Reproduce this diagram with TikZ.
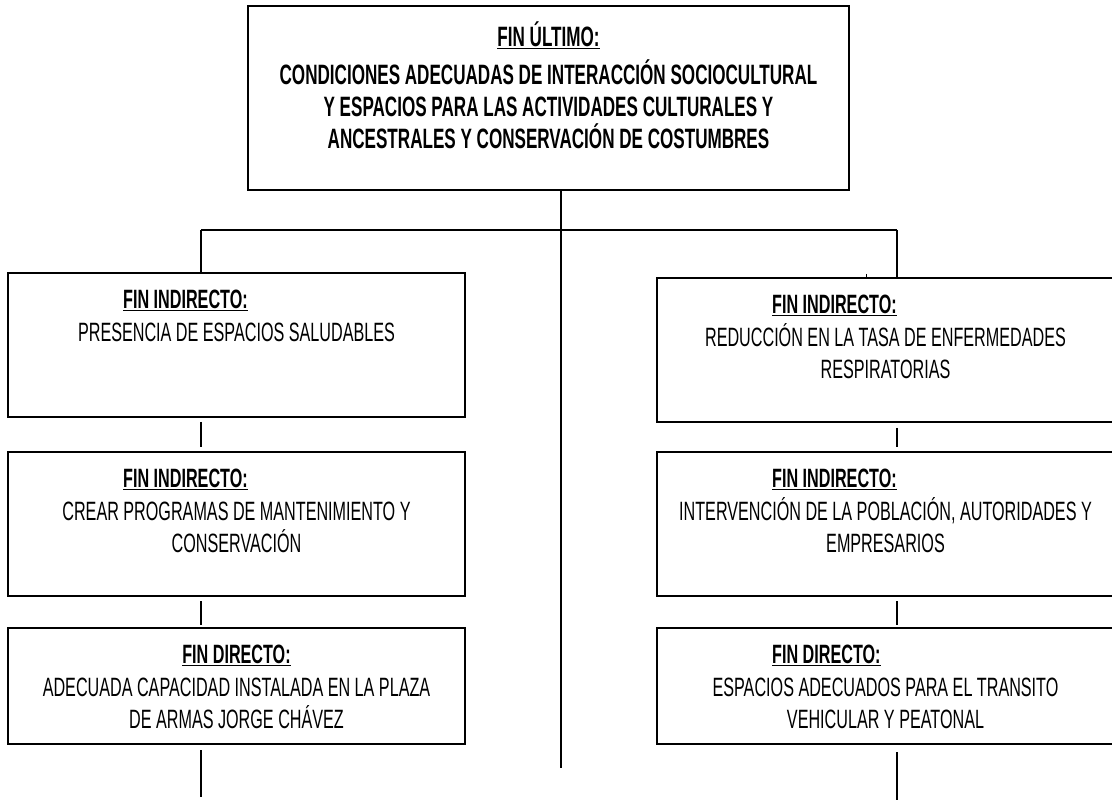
\documentclass[tikz,border=0pt]{standalone}
\usepackage{fontspec}
\setmainfont{Liberation Sans}[FakeStretch=0.61]
\usetikzlibrary{positioning}

\tikzset{
  caja/.style={draw, line width=1.6pt, anchor=north west, inner sep=0pt, outer sep=0pt},
  titulo/.style={inner sep=0pt, font=\bfseries\fontsize{26.5}{32}\selectfont},
  cuerpo/.style={anchor=north, align=center, inner sep=0pt, font=\fontsize{26.5}{32}\selectfont},
  linea/.style={line width=1.6pt}
}

\begin{document}
\begin{tikzpicture}[x=1pt,y=-1pt]
  \useasboundingbox (0,0) rectangle (1112,802);
  \clip (0,0) rectangle (1112,802);

  % fin ultimo
  \node[caja, minimum width=601pt, minimum height=184pt] (ultimo) at (248,6) {};
  \node[titulo, anchor=north, font=\bfseries\fontsize{28}{32}\selectfont] (tultimo) at (548.5,27) {\underline{FIN \smash{Ú}LTIMO:}};
  \node[cuerpo, font=\bfseries\fontsize{28}{32}\selectfont] (cultimo) at (548.5,65)
    {CONDICIONES ADECUADAS DE INTERACCI\smash{Ó}N SOCIOCULTURAL\\
     Y ESPACIOS PARA LAS ACTIVIDADES CULTURALES Y\\
     ANCESTRALES Y CONSERVACIÓN DE COSTUMBRES};

  % rama izquierda
  \node[caja, minimum width=457pt, minimum height=144pt] (izq1) at (8,273) {};
  \node[titulo, anchor=north west] (tizq1) at (123,290) {\underline{FIN INDIRECTO:}};
  \node[cuerpo] (cizq1) at (236.5,323) {PRESENCIA DE ESPACIOS SALUDABLES};

  \node[caja, minimum width=457pt, minimum height=144pt] (izq2) at (8,452) {};
  \node[titulo, anchor=north west] (tizq2) at (123,469) {\underline{FIN INDIRECTO:}};
  \node[cuerpo] (cizq2) at (236.5,502) {CREAR PROGRAMAS DE MANTENIMIENTO Y\\ CONSERVACIÓN};

  \node[caja, minimum width=457pt, minimum height=116pt] (izq3) at (8,628) {};
  \node[titulo, anchor=north] (tizq3) at (236.5,645) {\underline{FIN DIRECTO:}};
  \node[cuerpo] (cizq3) at (236.5,678) {ADECUADA CAPACIDAD INSTALADA EN LA PLAZA\\ DE ARMAS JORGE CHÁVEZ};

  % rama derecha
  \node[caja, minimum width=457pt, minimum height=144pt] (der1) at (657,278) {};
  \node[titulo, anchor=north west] (tder1) at (772,295) {\underline{FIN INDIRECTO:}};
  \node[cuerpo] (cder1) at (885.5,328) {REDUCCI\smash{Ó}N EN LA TASA DE ENFERMEDADES\\ RESPIRATORIAS};

  \node[caja, minimum width=457pt, minimum height=144pt] (der2) at (657,452) {};
  \node[titulo, anchor=north west] (tder2) at (772,469) {\underline{FIN INDIRECTO:}};
  \node[cuerpo] (cder2) at (885.5,502) {INTERVENCI\smash{Ó}N DE LA POBLACI\smash{Ó}N, AUTORIDADES Y\\ EMPRESARIOS};

  \node[caja, minimum width=457pt, minimum height=116pt] (der3) at (657,628) {};
  \node[titulo, anchor=north west] (tder3) at (772,645) {\underline{FIN DIRECTO:}};
  \node[cuerpo] (cder3) at (885.5,678) {ESPACIOS ADECUADOS PARA EL TRANSITO\\ VEHICULAR Y PEATONAL};

  % conectores
  \coordinate (centro) at (561,768);
  \coordinate (ramaL) at (201,230);
  \coordinate (ramaR) at (897,230);
  \coordinate (finL) at (201,797);
  \coordinate (finR) at (897,800);
  \coordinate (marca) at (866,274);

  \draw[linea] (ultimo.south -| centro) -- (centro);
  \draw[linea] (ramaL) -- (ramaR);
  \draw[linea] (ramaL) -- (ramaL |- izq1.north);
  \draw[linea] (ramaR) -- (ramaR |- der1.north);
  \draw[linea, shorten <=5pt, shorten >=5pt] (izq1.south -| ramaL) -- (izq2.north -| ramaL);
  \draw[linea, shorten <=5pt, shorten >=3pt] (izq2.south -| ramaL) -- (izq3.north -| ramaL);
  \draw[linea, shorten <=6pt] (izq3.south -| finL) -- (finL);
  \draw[linea, shorten <=6pt, shorten >=5pt] (der1.south -| ramaR) -- (der2.north -| ramaR);
  \draw[linea, shorten <=5pt, shorten >=3pt] (der2.south -| ramaR) -- (der3.north -| ramaR);
  \draw[linea, shorten <=8pt] (der3.south -| finR) -- (finR);
  \draw[line width=1pt] (marca) -- (marca |- der1.north);
\end{tikzpicture}
\end{document}
